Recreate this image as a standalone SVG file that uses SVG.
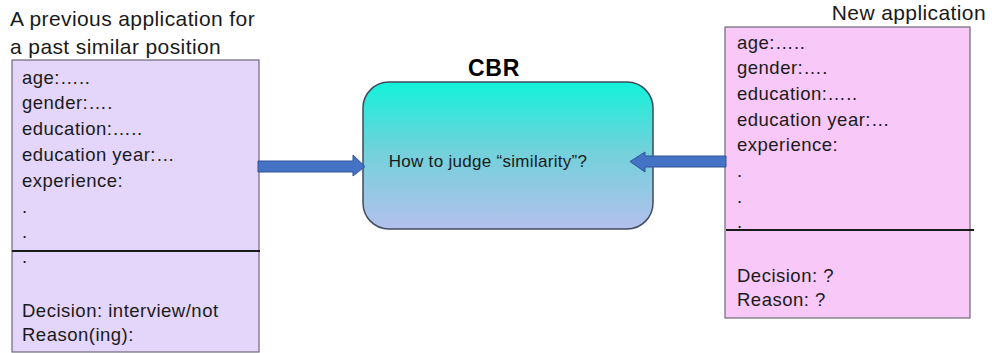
<svg xmlns="http://www.w3.org/2000/svg" width="992" height="353" viewBox="0 0 992 353">
  <defs>
    <linearGradient id="cbrFill" x1="0" y1="0" x2="0" y2="1">
      <stop offset="0" stop-color="#12F2DA"/>
      <stop offset="0.45" stop-color="#6FD2DA"/>
      <stop offset="1" stop-color="#B4C0EC"/>
    </linearGradient>
    <style>
      .t { font-family: "Liberation Sans", Arial, sans-serif; font-size: 18.5px; letter-spacing: 0.5px; fill: #1a1a1a; }
      .title { font-family: "Liberation Sans", Arial, sans-serif; font-size: 21px; letter-spacing: 0.4px; fill: #1a1a1a; }
      .bold { font-family: "Liberation Sans", Arial, sans-serif; font-size: 23px; font-weight: bold; letter-spacing: 0.8px; fill: #000; }
      .card { stroke: #6d6a78; stroke-width: 1.2; }
      .rule { stroke: #1a1a1a; stroke-width: 2; }
      .arrow { fill: #4472C4; stroke: #2F5597; stroke-width: 1; }
    </style>
  </defs>
  <rect width="992" height="353" fill="#ffffff"/>

  <!-- previous application card -->
  <g id="previous-application">
    <text class="title" x="10" y="26">A previous application for</text>
    <text class="title" x="10" y="54">a past similar position</text>
    <rect class="card" x="12" y="60" width="247" height="292" fill="#E4D5FB"/>
    <line class="rule" x1="12" y1="251" x2="260" y2="251"/>
    <text class="t" x="22" y="84">age:…..</text>
    <text class="t" x="22" y="109">gender:….</text>
    <text class="t" x="22" y="135">education:…..</text>
    <text class="t" x="22" y="161">education year:…</text>
    <text class="t" x="22" y="187">experience:</text>
    <text class="t" x="22" y="213">.</text>
    <text class="t" x="22" y="238">.</text>
    <text class="t" x="22" y="263">.</text>
    <text class="t" x="22" y="317">Decision: interview/not</text>
    <text class="t" x="22" y="341">Reason(ing):</text>
  </g>

  <!-- case-based reasoning engine -->
  <g id="cbr">
    <text class="bold" x="494" y="76" text-anchor="middle">CBR</text>
    <rect x="363" y="82" width="290" height="147" rx="26" ry="26" fill="url(#cbrFill)" stroke="#3f4a5e" stroke-width="1.5"/>
    <text class="t" x="488" y="167" text-anchor="middle" style="font-size:17px;letter-spacing:0.3px">How to judge “similarity”?</text>
  </g>

  <!-- new application card -->
  <g id="new-application">
    <text class="title" x="986" y="20" text-anchor="end">New application</text>
    <rect class="card" x="725" y="27" width="245" height="291" fill="#F8C9F8"/>
    <line class="rule" x1="726" y1="230" x2="974" y2="230"/>
    <text class="t" x="737" y="49">age:…..</text>
    <text class="t" x="737" y="74">gender:….</text>
    <text class="t" x="737" y="100">education:…..</text>
    <text class="t" x="737" y="126">education year:…</text>
    <text class="t" x="737" y="151">experience:</text>
    <text class="t" x="737" y="177">.</text>
    <text class="t" x="737" y="203">.</text>
    <text class="t" x="737" y="228">.</text>
    <text class="t" x="737" y="282">Decision: ?</text>
    <text class="t" x="737" y="306">Reason: ?</text>
  </g>

  <!-- connectors -->
  <g id="connectors">
    <path class="arrow" d="M258,161 L353,161 L353,155 L365,166.5 L353,176 L353,172 L258,172 Z"/>
    <path class="arrow" d="M726,156 L645,156 L645,152 L630,161.5 L645,172 L645,167 L726,167 Z"/>
  </g>
</svg>
